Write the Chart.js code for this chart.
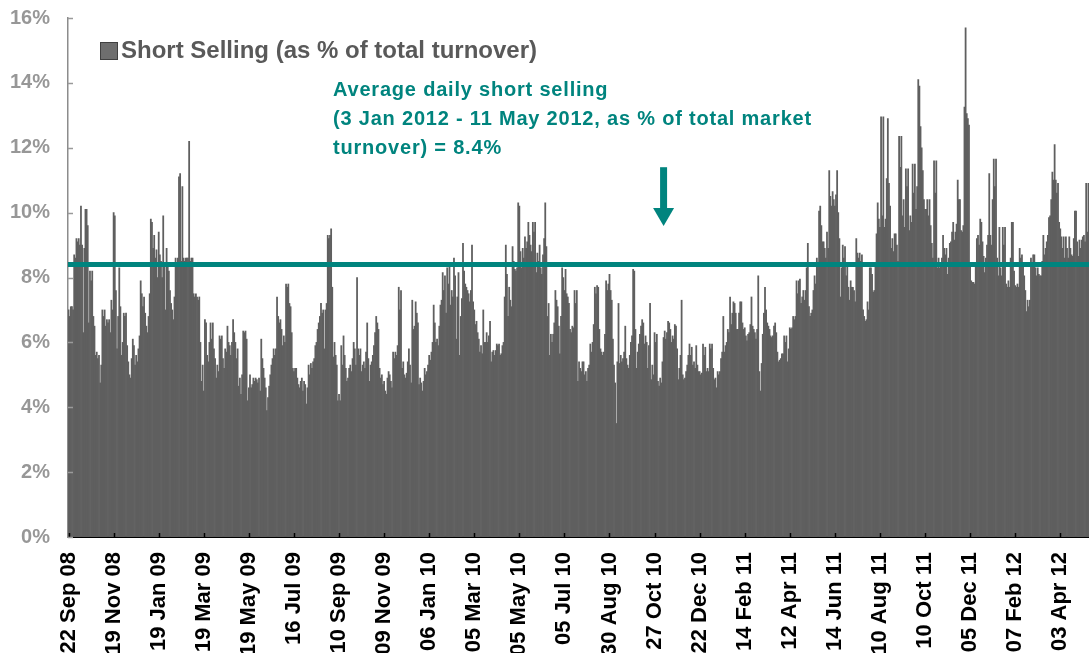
<!DOCTYPE html>
<html>
<head>
<meta charset="utf-8">
<script src="https://cdn.jsdelivr.net/npm/chart.js@4.4.1/dist/chart.umd.min.js"></script>
<style>
  html, body { margin: 0; padding: 0; background: #fff; overflow: hidden; }
  #wrap { width: 1089px; height: 653px; }
</style>
</head>
<body>
<div id="wrap"><canvas id="shortChart" width="1089" height="653"></canvas></div>
<script>
// daily short selling, % of total turnover
const shortSelling2008 = [
  7.0, 6.8, 7.1, 7.1, 7.0, 8.7, 8.6, 9.2, 9.1, 9.2,
  9.0, 10.2, 9.0, 6.3, 8.9, 10.1, 10.1, 9.6, 6.6, 8.2,
  7.9, 8.2, 6.8, 6.5, 5.6, 5.7, 5.5, 5.6, 4.75, 5.3,
  7.0, 6.8, 7.0, 6.5, 6.7, 6.6, 6.7, 6.3, 7.3, 7.0,
  10.0, 9.9, 7.6, 5.8, 6.8, 8.3, 7.1, 5.6, 6.0, 6.9,
  6.8, 6.9, 5.9, 5.4, 5.0, 4.9, 5.5, 6.1, 5.9, 5.3,
  5.6, 5.4, 5.8, 6.2, 7.9, 7.5, 7.1, 7.4, 6.9
];
const shortSelling2009 = [
  6.5,
  6.3, 6.8, 7.5, 9.8, 9.7, 8.9, 9.3, 8.6, 8.85, 8.0,
  9.4, 8.7, 8.5, 8.0, 9.9, 8.4, 7.0, 8.9, 8.4, 8.2,
  7.6, 7.2, 7.0, 6.7, 7.4, 8.6, 8.4, 8.6, 11.1, 11.2,
  8.5, 10.8, 8.6, 8.5, 8.6, 8.6, 8.6, 12.2, 8.5, 8.6,
  8.6, 7.5, 7.4, 7.5, 7.4, 7.3, 7.4, 6.0, 4.8, 5.3,
  4.5, 6.7, 6.6, 5.6, 5.4, 6.0, 6.6, 6.1, 6.6, 5.8,
  5.5, 4.9, 5.3, 5.1, 6.2, 6.1, 6.2, 5.5, 5.2, 5.8,
  5.7, 6.5, 6.0, 5.9, 5.6, 6.0, 6.7, 6.3, 6.0, 5.5,
  5.8, 4.65, 4.9, 4.4, 5.0, 6.35, 6.3, 6.35, 6.1, 4.2,
  4.6, 5.0, 4.6, 4.7, 4.9, 4.8, 4.9, 4.85, 4.75, 4.9,
  4.5, 6.1, 5.5, 5.2, 4.9, 4.6, 3.9, 4.3, 4.65, 5.0,
  5.3, 5.5, 5.8, 5.6, 5.8, 7.4, 6.8, 6.6, 6.7, 6.4,
  5.9, 6.2, 6.0, 7.8, 7.7, 7.8, 7.2, 7.1, 6.3, 5.2,
  5.1, 5.2, 5.2, 4.9, 4.7, 4.6, 4.8, 4.9, 4.5, 4.8,
  4.7, 4.1, 4.6, 5.3, 5.0, 5.35, 5.2, 5.4, 5.5, 5.9,
  6.0, 6.4, 6.6, 6.8, 7.2, 6.9, 7.0, 5.8, 7.0, 7.2,
  9.3, 9.2, 9.3, 9.5, 7.7, 5.55, 6.0, 5.6, 5.3, 4.2,
  4.4, 4.2, 5.9, 5.3, 6.2, 5.6, 5.2, 4.8, 4.9, 5.2,
  5.3, 5.1, 5.5, 6.0, 5.8, 5.3, 8.0, 5.8, 5.6, 5.8,
  5.1, 5.3, 5.4, 5.2, 5.7, 6.6, 5.5, 4.8, 5.3, 5.4,
  5.6, 5.9, 6.3, 6.8, 6.6, 6.4, 5.2, 4.9, 5.0, 4.7,
  4.8, 4.5, 4.4, 4.9, 5.1, 5.0, 4.8, 4.6, 5.7, 5.5,
  5.7, 5.6, 5.9, 7.7, 7.0, 7.6, 5.2, 5.4, 5.0, 4.9,
  5.05, 5.4, 5.8, 5.3, 4.75, 7.3, 6.4, 6.5, 7.25, 6.9,
  6.6, 4.7, 4.9, 4.75, 4.5, 4.8, 5.2, 5.0
];
const shortSelling2010 = [
  5.1, 5.3,
  5.6, 5.45, 5.7, 6.0, 7.15, 6.6, 6.0, 6.1, 5.9, 6.5,
  7.15, 7.3, 8.15, 7.6, 8.05, 6.9, 8.3, 7.8, 8.4, 7.15,
  7.6, 7.4, 8.6, 8.05, 6.1, 7.4, 8.15, 5.6, 6.8, 7.35,
  9.05, 8.2, 7.8, 7.7, 7.6, 7.5, 7.25, 7.6, 9.0, 7.25,
  7.0, 6.55, 6.65, 6.3, 6.1, 5.7, 5.9, 5.65, 7.0, 6.0,
  6.0, 6.3, 6.0, 6.2, 6.65, 5.4, 5.7, 5.75, 5.6, 5.75,
  5.95, 5.9, 5.95, 5.6, 5.65, 5.9, 6.0, 7.4, 9.0, 8.1,
  6.8, 7.7, 7.3, 7.1, 8.95, 8.5, 8.25, 8.2, 8.3, 10.3,
  10.2, 8.8, 8.3, 8.9, 8.6, 9.25, 8.9, 9.1, 9.7, 9.3,
  9.0, 8.8, 9.7, 9.4, 9.7, 8.15, 8.75, 8.5, 9.0, 8.3,
  8.1, 8.7, 9.2, 10.3, 8.95, 6.8, 7.2, 5.6, 6.25, 6.0,
  6.25, 6.6, 7.6, 7.3, 7.1, 6.5, 5.65, 6.8, 8.3, 8.0,
  7.6, 8.25, 7.5, 7.4, 7.2, 6.4, 6.3, 6.5, 6.45, 7.6,
  7.2, 7.6, 4.8, 5.4, 5.2, 5.1, 5.4, 5.4, 5.0, 5.1,
  4.8, 5.2, 5.3, 5.95, 5.7, 6.0, 6.55, 7.7, 7.5, 7.75,
  7.7, 6.4, 5.8, 5.7, 5.6, 5.7, 6.25, 7.9, 7.6, 7.8,
  8.1, 7.6, 7.3, 6.1, 5.3, 4.75, 3.5, 5.4, 7.2, 5.35,
  5.6, 5.4, 5.5, 5.7, 6.5, 5.5, 5.3, 5.2, 5.6, 6.0,
  6.2, 8.25, 8.2, 6.4, 5.2, 5.7, 5.95, 6.25, 6.5, 6.7,
  6.6, 5.95, 6.2, 6.0, 5.2, 5.9, 7.2, 4.85, 5.3, 5.0,
  6.3, 6.0, 6.25, 4.8, 4.65, 4.9, 4.75, 5.4, 6.15, 6.35,
  6.1, 6.3, 6.65, 6.6, 6.4, 6.0, 6.2, 6.1, 6.55, 6.5,
  5.8, 4.85, 5.2, 5.6, 7.3, 5.0, 4.85, 4.9, 5.1, 5.3,
  5.6, 5.95, 5.6, 5.85, 5.3, 5.4, 5.2, 5.9, 5.3, 5.1,
  5.1, 5.0, 5.05, 5.95, 5.6, 5.85, 5.1
];
const shortSelling2011 = [
  5.2, 5.1, 5.95,
  5.8, 5.95, 5.2, 4.85, 4.9, 4.6, 5.1, 5.0, 5.1, 5.5,
  5.7, 6.8, 5.7, 5.9, 6.0, 6.4, 6.3, 7.4, 6.55, 6.9,
  7.25, 7.2, 6.9, 6.4, 6.4, 6.9, 7.25, 7.25, 6.6, 6.4,
  6.45, 6.2, 6.05, 6.25, 6.3, 6.55, 7.4, 6.5, 6.4, 6.3,
  6.1, 6.4, 8.05, 5.1, 4.5, 5.35, 6.25, 6.9, 7.7, 7.0,
  6.6, 6.5, 6.4, 6.2, 6.15, 6.2, 6.5, 6.6, 6.3, 5.7,
  5.4, 5.45, 5.5, 5.65, 5.65, 6.2, 6.0, 6.2, 5.4, 5.8,
  6.45, 6.4, 6.45, 6.8, 6.7, 6.8, 7.9, 7.5, 7.9, 7.95,
  7.2, 7.4, 7.6, 7.3, 7.6, 8.3, 9.05, 7.1, 6.8, 6.9,
  7.0, 7.6, 8.05, 7.8, 8.6, 8.4, 10.05, 10.2, 9.6, 9.1,
  9.1, 8.9, 8.6, 9.4, 8.9, 11.3, 10.5, 10.2, 10.65, 10.4,
  10.2, 10.55, 11.3, 10.0, 9.2, 7.4, 8.3, 9.0, 8.6, 8.95,
  8.05, 8.4, 7.7, 7.3, 7.9, 7.7, 7.7, 7.6, 7.25, 9.2,
  8.75, 8.6, 8.75, 8.5, 8.7, 7.0, 6.8, 6.65, 6.7, 7.25,
  7.0, 8.3, 8.3, 8.1, 7.55, 7.6, 8.4, 9.35, 10.3, 9.8,
  9.55, 12.95, 9.9, 12.95, 9.55, 9.8, 11.05, 12.9, 10.9, 10.2,
  8.9, 9.2, 8.8, 9.35, 9.35, 9.0, 8.5, 12.35, 11.4, 12.35,
  9.9, 10.4, 9.55, 11.35, 10.8, 11.35, 9.45, 9.9, 9.7, 11.5,
  10.6, 11.5, 10.1, 10.8, 14.1, 13.9, 12.65, 12.0, 11.3, 10.4,
  10.1, 10.1, 10.4, 9.9, 10.4, 9.6, 9.05, 8.6, 11.6, 10.6,
  11.6, 8.3, 8.6, 8.3, 8.35, 8.6, 9.3, 8.9, 8.7, 8.9,
  8.1, 8.6, 9.05, 9.1, 9.4, 9.7, 9.15, 9.4, 9.65, 11.0,
  10.4, 10.4, 9.45, 9.4, 9.6, 13.25, 15.7, 13.05, 12.9, 12.7,
  8.45, 7.9, 7.85, 7.85, 7.8, 8.4, 9.2, 9.3, 9.0, 9.8,
  9.7, 9.1, 8.65, 8.15, 8.6, 9.0, 9.3
];
const shortSelling2012 = [
  11.2, 9.3, 9.0,
  10.4, 11.65, 10.8, 11.65, 8.6, 8.05, 9.55, 8.3, 8.05, 9.55,
  9.0, 9.55, 7.8, 7.7, 7.9, 7.7, 8.6, 9.7, 9.7, 8.2,
  7.75, 7.7, 7.8, 7.7, 8.9, 8.6, 8.7, 8.45, 8.05, 7.6,
  6.95, 7.3, 7.1, 7.3, 8.6, 8.4, 8.7, 8.7, 8.3, 8.05,
  8.3, 8.1, 8.05, 8.05, 8.5, 9.3, 8.7, 8.9, 9.1, 9.3,
  9.85, 9.9, 10.4, 11.25, 11.0, 12.1, 11.0, 10.6, 10.9, 9.7,
  9.5, 9.25, 8.9, 9.25, 8.6, 9.25, 8.9, 8.6, 9.25, 8.9,
  8.7, 8.65, 9.2, 10.05, 10.05, 9.1, 8.65, 9.15, 8.9, 9.15,
  9.25, 9.3, 9.1, 10.9, 9.4, 10.9
];

// one date label every 40 trading days
const tickLabels = [
  '22 Sep 08', '19 Nov 08', '19 Jan 09', '19 Mar 09', '19 May 09', '16 Jul 09',
  '10 Sep 09', '09 Nov 09', '06 Jan 10', '05 Mar 10', '05 May 10', '05 Jul 10',
  '30 Aug 10', '27 Oct 10', '22 Dec 10', '14 Feb 11', '12 Apr 11', '14 Jun 11',
  '10 Aug 11', '10 Oct 11', '05 Dec 11', '07 Feb 12', '03 Apr 12'
];
const tickEvery = 40;
const yTicks = [0, 2, 4, 6, 8, 10, 12, 14, 16];
const averageShortSelling = 8.4;   // 3 Jan 2012 - 11 May 2012

const shortSelling = [].concat(shortSelling2008, shortSelling2009, shortSelling2010,
  shortSelling2011, shortSelling2012);
const labels = shortSelling.map((v, i) =>
  i % tickEvery === 0 && tickLabels[i / tickEvery] ? tickLabels[i / tickEvery] : '');

const TEAL = '#00847e';
const FONT = '"Liberation Sans", Arial, sans-serif';

// legend, average line, note, arrow and the inward tick marks
const extras = {
  id: 'extras',
  afterDraw(chart) {
    const { ctx, chartArea, scales } = chart;
    const y = scales.y, x = scales.x;
    ctx.save();

    // average line
    const yAvg = y.getPixelForValue(averageShortSelling);
    ctx.strokeStyle = TEAL;
    ctx.lineWidth = 5;
    ctx.beginPath();
    ctx.moveTo(chartArea.left, yAvg);
    ctx.lineTo(chartArea.right, yAvg);
    ctx.stroke();

    // tick marks pointing into the plot
    ctx.lineWidth = 1.5;
    ctx.strokeStyle = '#000';
    labels.forEach((lab, i) => {
      if (!lab) return;
      const px = Math.round(x.getPixelForValue(i)) + 0.5;
      ctx.beginPath();
      ctx.moveTo(px, chartArea.bottom - 4);
      ctx.lineTo(px, chartArea.bottom);
      ctx.stroke();
    });
    ctx.strokeStyle = '#9a9a9a';
    yTicks.forEach(v => {
      const py = Math.round(y.getPixelForValue(v)) + 0.5;
      ctx.beginPath();
      ctx.moveTo(chartArea.left, py);
      ctx.lineTo(chartArea.left + 5, py);
      ctx.stroke();
    });

    // legend
    ctx.fillStyle = '#6e6e6e';
    ctx.strokeStyle = '#404040';
    ctx.lineWidth = 1;
    ctx.fillRect(100.5, 42.5, 17, 17);
    ctx.strokeRect(100.5, 42.5, 17, 17);
    ctx.fillStyle = '#595959';
    ctx.font = 'bold 24px ' + FONT;
    ctx.textBaseline = 'middle';
    ctx.fillText('Short Selling (as % of total turnover)', 121, 51);

    // note
    ctx.fillStyle = TEAL;
    ctx.font = 'bold 20px ' + FONT;
    ctx.letterSpacing = '0.8px';
    ctx.fillText('Average daily short selling', 333, 90);
    ctx.fillText('(3 Jan 2012 - 11 May 2012, as % of total market', 333, 119);
    ctx.fillText('turnover) = 8.4%', 333, 148);
    ctx.letterSpacing = '0px';

    // arrow pointing at the line
    const ax = x.getPixelForValue(528);
    const top = y.getPixelForValue(11.4);
    const tip = y.getPixelForValue(9.59);
    ctx.fillRect(ax - 3.5, top, 7, tip - top - 16);
    ctx.beginPath();
    ctx.moveTo(ax - 10.5, tip - 18);
    ctx.lineTo(ax + 10.5, tip - 18);
    ctx.lineTo(ax, tip);
    ctx.closePath();
    ctx.fill();

    ctx.restore();
  }
};

new Chart(document.getElementById('shortChart'), {
  type: 'bar',
  data: {
    labels: labels,
    datasets: [{
      label: 'Short Selling (as % of total turnover)',
      data: shortSelling,
      backgroundColor: '#5f5f5f',
      borderWidth: 0,
      barPercentage: 1,
      categoryPercentage: 1
    }]
  },
  options: {
    responsive: false,
    animation: false,
    events: [],
    layout: { padding: { left: 0, right: 0, top: 18, bottom: 0 } },
    plugins: {
      legend: { display: false },
      tooltip: { enabled: false }
    },
    scales: {
      x: {
        offset: true,
        z: 1,
        grid: { display: false, drawTicks: false },
        border: { color: '#000', width: 2 },
        ticks: {
          autoSkip: false,
          minRotation: 90,
          maxRotation: 90,
          padding: 15,
          color: '#000',
          font: { family: FONT, size: 22, weight: 'bold' }
        },
        afterFit(scale) {
          scale.height = 116;
          scale.paddingLeft = 0;
          scale.paddingRight = 0;
        }
      },
      y: {
        min: 0,
        max: 16,
        z: 1,
        grid: { display: false, drawTicks: false },
        border: { color: '#8c8c8c', width: 1.5 },
        ticks: {
          stepSize: 2,
          padding: 18,
          color: '#979797',
          font: { family: FONT, size: 20, weight: 'bold' },
          callback: v => v + '%'
        },
        afterFit(scale) {
          scale.width = 68;
          scale.paddingTop = 0;
          scale.paddingBottom = 0;
        }
      }
    }
  },
  plugins: [extras]
});
</script>
</body>
</html>
